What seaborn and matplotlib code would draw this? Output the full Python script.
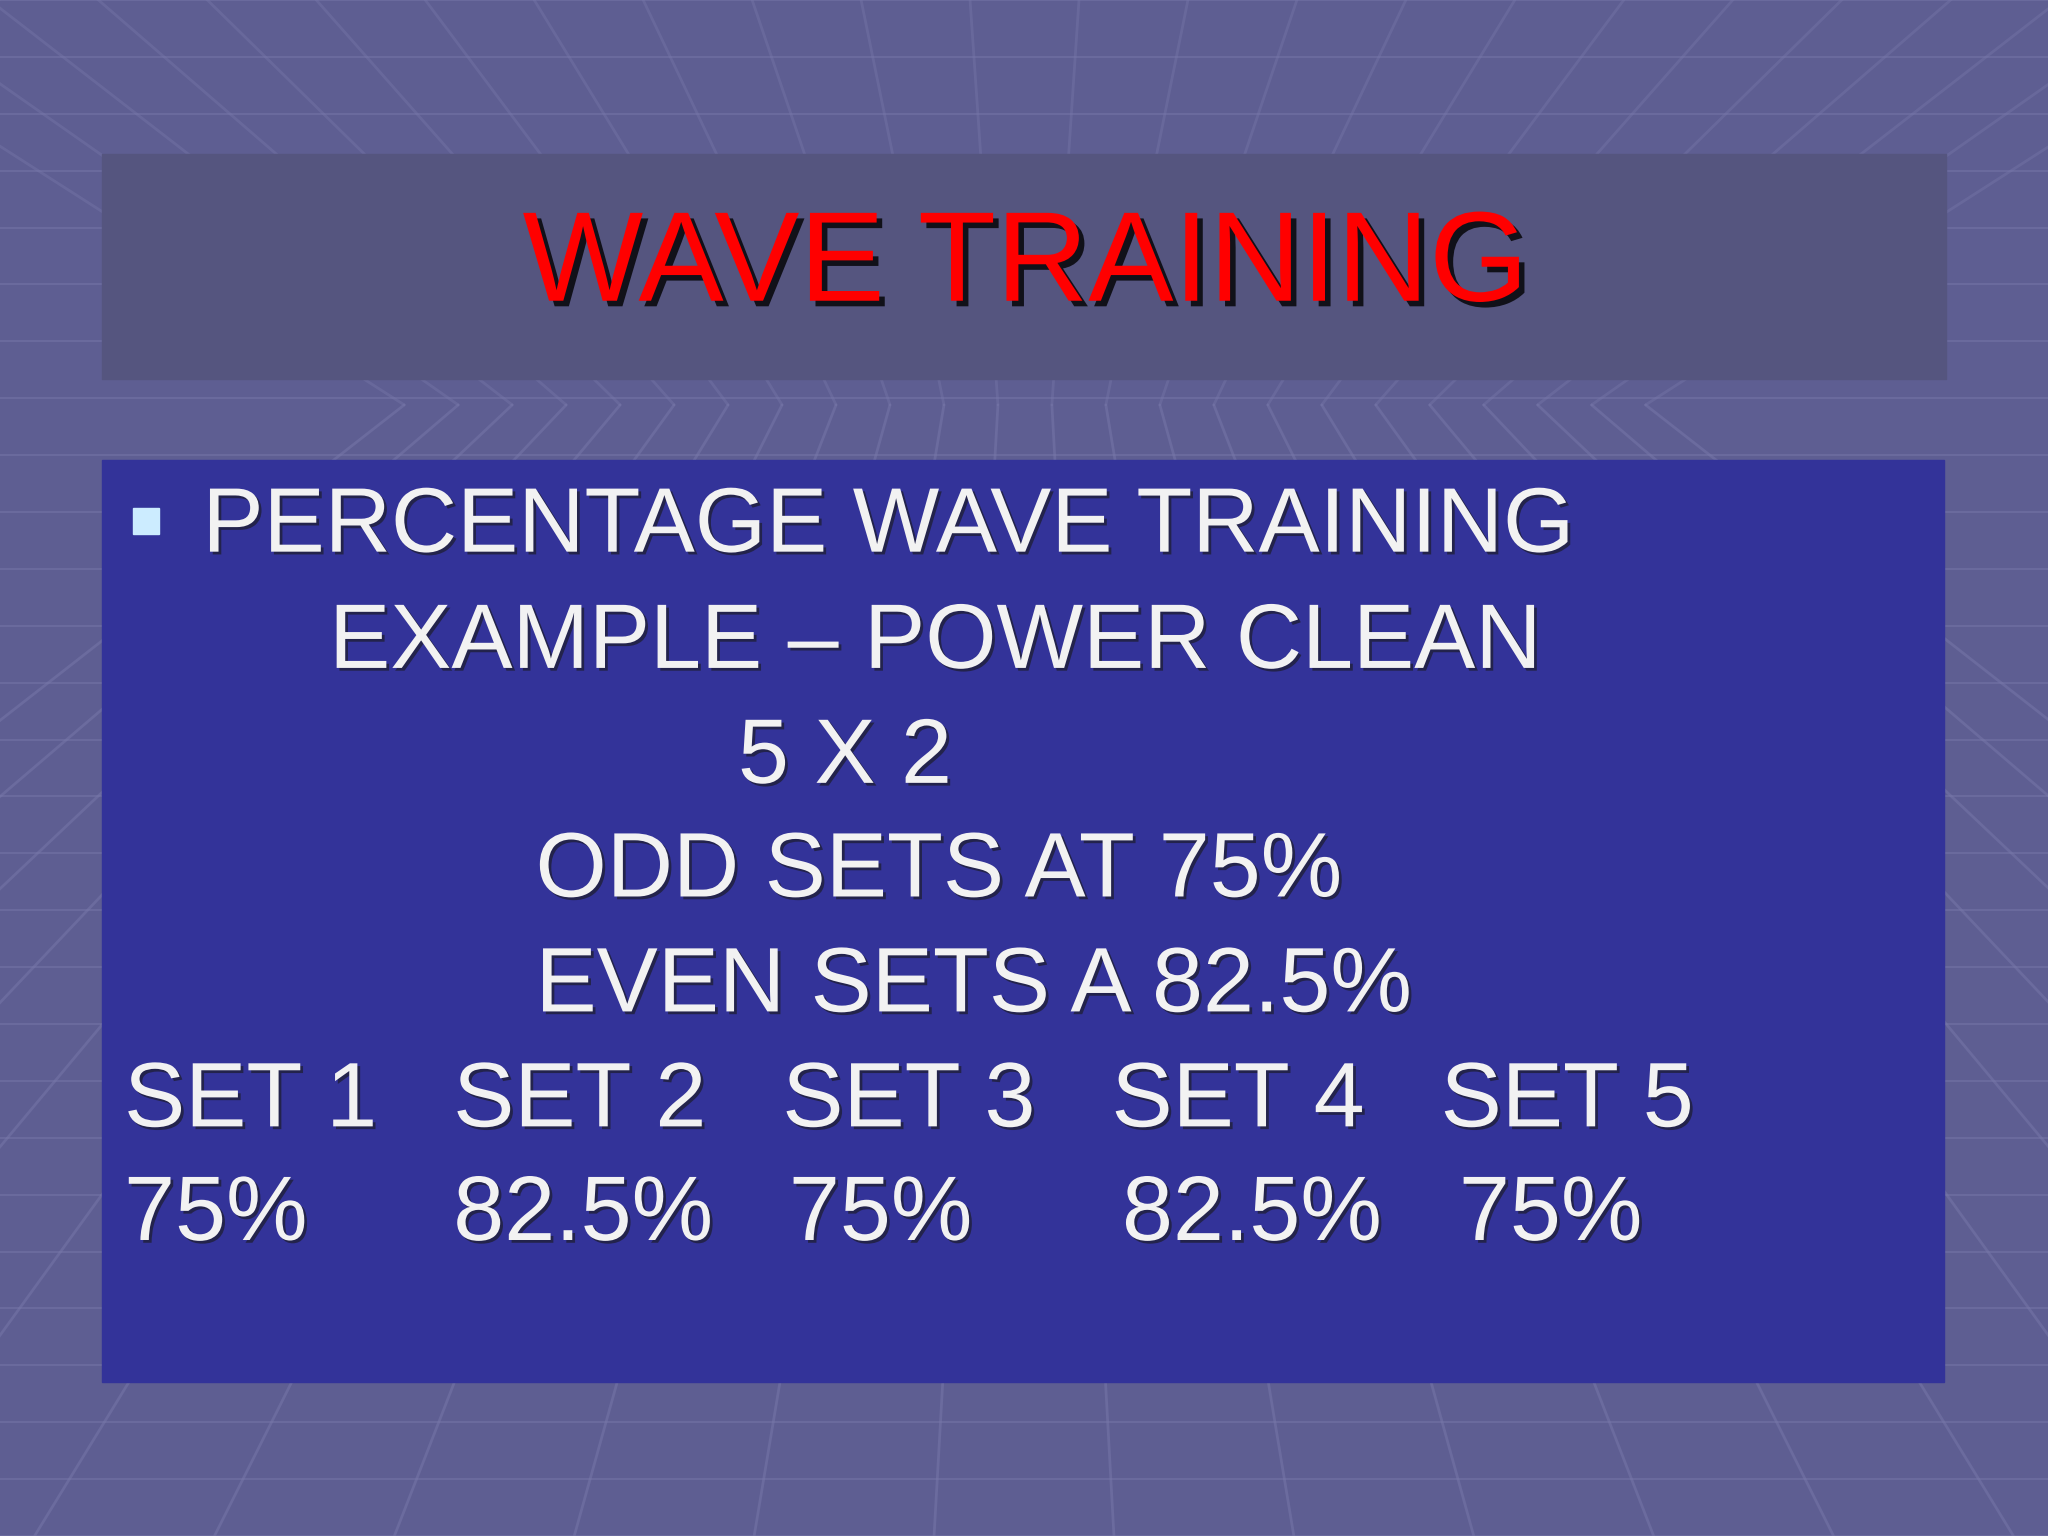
import matplotlib
matplotlib.use("Agg")
import matplotlib.pyplot as plt
import matplotlib.patheffects as pe
import seaborn as sns
import numpy as np

sns.set_theme(style="white")
plt.rcParams['font.family'] = ['Liberation Sans', 'DejaVu Sans']

title = "WAVE TRAINING"
bullet_line = "PERCENTAGE WAVE TRAINING"
sub_lines = ["EXAMPLE – POWER CLEAN", "5 X 2", "ODD SETS AT 75%", "EVEN SETS A 82.5%"]
sub_x = [252, 565, 410, 410]
set_labels = ["SET 1", "SET 2", "SET 3", "SET 4", "SET 5"]
set_pcts = ["75%", "82.5%", "75%", "82.5%", "75%"]
set_x = [95, 347, 599, 851, 1103]
pct_x = [95, 347, 604, 859, 1117]

W, H = 1568, 1176
fig = plt.figure(figsize=(20.48, 15.36), dpi=100)
ax = fig.add_axes([0, 0, 1, 1])
ax.set_xlim(0, W); ax.set_ylim(H, 0); ax.axis("off")

# background with perspective grid
ax.add_patch(plt.Rectangle((0, 0), W, H, color="#5e5e92", zorder=0))
cx, cy = 785, 560
for y in np.linspace(0, H, 28):
    ax.plot([0, W], [y, y], color="#7676a8", lw=1.5, alpha=0.5, zorder=1)
for x in np.linspace(-800, W + 800, 24):
    ax.plot([cx + (x - cx) * 0.3, x], [cy - 250, H], color="#7878aa", lw=2, alpha=0.5, zorder=1)
    ax.plot([cx + (x - cx) * 0.3, x], [cy - 250, -400], color="#7878aa", lw=2, alpha=0.4, zorder=1)

ax.add_patch(plt.Rectangle((78, 118), 1412, 172, color="#55557f", zorder=2))
ax.add_patch(plt.Rectangle((78, 352), 1410, 706, color="#333399", zorder=2))

shadow = [pe.withSimplePatchShadow(offset=(4, -4), shadow_rgbFace="black", alpha=0.8)]
tshadow = [pe.withSimplePatchShadow(offset=(2, -2), shadow_rgbFace="#222244", alpha=0.9)]

ax.text(785, 205, title, color="#ff0000", fontsize=92, ha="center", va="center",
        zorder=5, path_effects=shadow)

body = dict(color="#f2f2f2", fontsize=66, va="center", ha="left", zorder=5, path_effects=tshadow)
ax.add_patch(plt.Rectangle((102, 389), 20, 20, color="#ccecff", zorder=5))
dy = 6
ax.text(155, 398 + dy, bullet_line, **body)
for t, x, y in zip(sub_lines, sub_x, [487, 575, 662, 750]):
    ax.text(x, y + dy, t, **body)
for t, x in zip(set_labels, set_x):
    ax.text(x, 838 + dy, t, **body)
for t, x in zip(set_pcts, pct_x):
    ax.text(x, 925 + dy, t, **body)

fig.savefig("out.png", dpi=100)
